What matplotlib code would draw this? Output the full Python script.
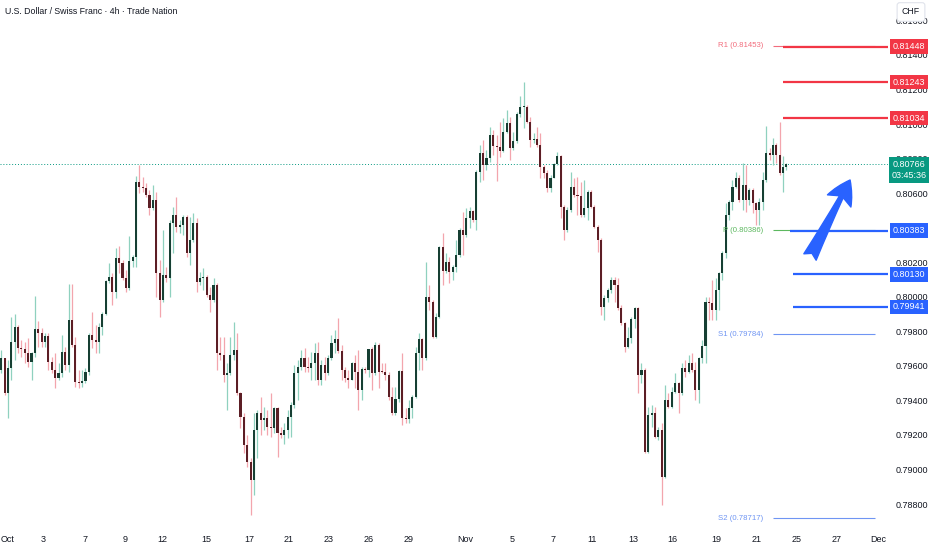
import matplotlib
matplotlib.use("Agg")
import matplotlib.pyplot as plt
import numpy as np
from matplotlib.transforms import blended_transform_factory

# USD/CHF 4h candles, Oct 1 -> Nov 24
opens = [
    0.79576, 0.79644, 0.79441, 0.79586, 0.79740, 0.79827, 0.79702, 0.79698, 0.79673, 0.79624,
    0.79673, 0.79812, 0.79792, 0.79740, 0.79775, 0.79624, 0.79576, 0.79528, 0.79557, 0.79682,
    0.79605, 0.79866, 0.79721, 0.79509, 0.79503, 0.79514, 0.79566, 0.79779, 0.79750, 0.79740,
    0.79827, 0.79900, 0.80093, 0.80116, 0.80030, 0.80227, 0.80194, 0.80107, 0.80049, 0.80207,
    0.80232, 0.80667, 0.80638, 0.80628, 0.80589, 0.80512, 0.80560, 0.80136, 0.79981, 0.80126,
    0.80107, 0.80425, 0.80473, 0.80406, 0.80415, 0.80460, 0.80251, 0.80328, 0.80425, 0.80087,
    0.80107, 0.80116, 0.80010, 0.79981, 0.80068, 0.79672, 0.79663, 0.79547, 0.79560, 0.79663,
    0.79691, 0.79441, 0.79305, 0.79141, 0.79045, 0.78939, 0.79228, 0.79325, 0.79287, 0.79296,
    0.79248, 0.79238, 0.79354, 0.79209, 0.79200, 0.79228, 0.79305, 0.79373, 0.79557, 0.79595,
    0.79643, 0.79595, 0.79585, 0.79614, 0.79672, 0.79518, 0.79603, 0.79557, 0.79644, 0.79731,
    0.79754, 0.79688, 0.79576, 0.79528, 0.79518, 0.79615, 0.79567, 0.79460, 0.79584, 0.79576,
    0.79696, 0.79557, 0.79721, 0.79567, 0.79563, 0.79547, 0.79422, 0.79325, 0.79406, 0.79572,
    0.79296, 0.79291, 0.79354, 0.79422, 0.79677, 0.79754, 0.79644, 0.80001, 0.79972, 0.79769,
    0.79885, 0.80290, 0.80151, 0.80204, 0.80146, 0.80171, 0.80242, 0.80387, 0.80358, 0.80454,
    0.80499, 0.80445, 0.80724, 0.80830, 0.80763, 0.80802, 0.80937, 0.80875, 0.80869, 0.80844,
    0.80956, 0.81004, 0.80863, 0.80902, 0.81057, 0.81097, 0.81101, 0.81014, 0.80908, 0.80914,
    0.80879, 0.80750, 0.80715, 0.80628, 0.80690, 0.80767, 0.80817, 0.80522, 0.80387, 0.80503,
    0.80638, 0.80590, 0.80586, 0.80474, 0.80512, 0.80609, 0.80522, 0.80406, 0.80329, 0.79943,
    0.79991, 0.80040, 0.80097, 0.80068, 0.79933, 0.79846, 0.79711, 0.79760, 0.79869, 0.79933,
    0.79548, 0.79577, 0.79104, 0.79316, 0.79326, 0.79190, 0.79229, 0.78959, 0.79403, 0.79364,
    0.79450, 0.79499, 0.79442, 0.79586, 0.79567, 0.79615, 0.79577, 0.79461, 0.79644, 0.79712,
    0.79972, 0.79963, 0.79924, 0.80040, 0.80136, 0.80252, 0.80474, 0.80550, 0.80638, 0.80686,
    0.80560, 0.80647, 0.80560, 0.80618, 0.80540, 0.80502, 0.80550, 0.80677, 0.80834, 0.80820,
    0.80879, 0.80820, 0.80715, 0.80749,
]
highs = [
    0.79692, 0.79644, 0.79634, 0.79885, 0.79900, 0.79837, 0.79750, 0.79740, 0.79759, 0.79682,
    0.80005, 0.79860, 0.79817, 0.79788, 0.79788, 0.79653, 0.79673, 0.79615, 0.79779, 0.79711,
    0.80071, 0.80071, 0.79769, 0.79576, 0.79576, 0.79586, 0.79788, 0.79914, 0.79837, 0.79846,
    0.79914, 0.80097, 0.80194, 0.80136, 0.80281, 0.80294, 0.80213, 0.80155, 0.80352, 0.80242,
    0.80699, 0.80763, 0.80695, 0.80657, 0.80618, 0.80647, 0.80609, 0.80213, 0.80387, 0.80174,
    0.80444, 0.80521, 0.80580, 0.80444, 0.80473, 0.80473, 0.80464, 0.80483, 0.80454, 0.80145,
    0.80165, 0.80126, 0.80058, 0.80107, 0.80077, 0.79769, 0.79769, 0.79614, 0.79769, 0.79856,
    0.79788, 0.79450, 0.79325, 0.79200, 0.79064, 0.79325, 0.79344, 0.79422, 0.79364, 0.79344,
    0.79441, 0.79364, 0.79364, 0.79248, 0.79267, 0.79344, 0.79392, 0.79605, 0.79634, 0.79691,
    0.79701, 0.79653, 0.79682, 0.79730, 0.79740, 0.79634, 0.79653, 0.79663, 0.79779, 0.79808,
    0.79875, 0.79721, 0.79596, 0.79576, 0.79625, 0.79663, 0.79692, 0.79596, 0.79596, 0.79700,
    0.79711, 0.79740, 0.79730, 0.79615, 0.79615, 0.79566, 0.79480, 0.79480, 0.79576, 0.79673,
    0.79354, 0.79403, 0.79432, 0.79711, 0.79789, 0.79760, 0.80204, 0.80068, 0.79982, 0.79904,
    0.80294, 0.80368, 0.80252, 0.80232, 0.80184, 0.80329, 0.80397, 0.80493, 0.80512, 0.80522,
    0.80503, 0.80734, 0.80879, 0.80908, 0.80850, 0.80985, 0.80966, 0.80937, 0.81014, 0.81033,
    0.81082, 0.81043, 0.80956, 0.81072, 0.81165, 0.81242, 0.81111, 0.81043, 0.80946, 0.80985,
    0.80946, 0.80763, 0.80734, 0.80705, 0.80773, 0.80840, 0.80821, 0.80532, 0.80522, 0.80724,
    0.80686, 0.80696, 0.80667, 0.80676, 0.80618, 0.80618, 0.80532, 0.80416, 0.80338, 0.80011,
    0.80050, 0.80116, 0.80116, 0.80107, 0.79953, 0.79856, 0.79827, 0.79885, 0.79943, 0.79943,
    0.79615, 0.79586, 0.79364, 0.79374, 0.79364, 0.79248, 0.79268, 0.79490, 0.79442, 0.79480,
    0.79557, 0.79509, 0.79615, 0.79634, 0.79663, 0.79673, 0.79625, 0.79653, 0.79750, 0.80001,
    0.80001, 0.80098, 0.80107, 0.80146, 0.80262, 0.80542, 0.80560, 0.80677, 0.80725, 0.80706,
    0.80773, 0.80763, 0.80628, 0.80628, 0.80550, 0.80570, 0.80725, 0.80989, 0.80859, 0.80918,
    0.80888, 0.81014, 0.80812, 0.80773,
]
lows = [
    0.79557, 0.79431, 0.79296, 0.79518, 0.79634, 0.79673, 0.79653, 0.79615, 0.79595, 0.79518,
    0.79653, 0.79711, 0.79711, 0.79711, 0.79576, 0.79557, 0.79470, 0.79518, 0.79537, 0.79576,
    0.79566, 0.79711, 0.79480, 0.79470, 0.79480, 0.79499, 0.79547, 0.79702, 0.79673, 0.79673,
    0.79779, 0.79895, 0.80078, 0.79952, 0.79991, 0.80136, 0.80097, 0.80030, 0.80039, 0.80174,
    0.80174, 0.80599, 0.80609, 0.80580, 0.80474, 0.80502, 0.80001, 0.79885, 0.79972, 0.80087,
    0.80001, 0.80251, 0.80377, 0.80367, 0.80357, 0.80232, 0.80184, 0.80319, 0.80029, 0.80068,
    0.80039, 0.80001, 0.79913, 0.79971, 0.79576, 0.79634, 0.79508, 0.79344, 0.79547, 0.79634,
    0.79431, 0.79238, 0.79093, 0.79016, 0.78736, 0.78852, 0.79064, 0.79200, 0.79228, 0.79200,
    0.79190, 0.79209, 0.79074, 0.79181, 0.79150, 0.79181, 0.79190, 0.79354, 0.79402, 0.79576,
    0.79566, 0.79566, 0.79518, 0.79518, 0.79489, 0.79489, 0.79518, 0.79547, 0.79634, 0.79673,
    0.79673, 0.79518, 0.79509, 0.79470, 0.79518, 0.79470, 0.79345, 0.79403, 0.79557, 0.79538,
    0.79460, 0.79547, 0.79470, 0.79557, 0.79518, 0.79403, 0.79316, 0.79316, 0.79393, 0.79258,
    0.79268, 0.79268, 0.79296, 0.79412, 0.79576, 0.79576, 0.79634, 0.79924, 0.79760, 0.79760,
    0.79875, 0.80068, 0.80136, 0.80078, 0.80097, 0.80146, 0.80232, 0.80242, 0.80348, 0.80397,
    0.80435, 0.80387, 0.80667, 0.80676, 0.80734, 0.80782, 0.80821, 0.80671, 0.80811, 0.80840,
    0.80946, 0.80792, 0.80850, 0.80889, 0.81043, 0.80975, 0.81004, 0.80869, 0.80889, 0.80869,
    0.80686, 0.80686, 0.80609, 0.80609, 0.80686, 0.80763, 0.80454, 0.80329, 0.80377, 0.80493,
    0.80580, 0.80474, 0.80464, 0.80464, 0.80445, 0.80512, 0.80396, 0.80261, 0.79895, 0.79866,
    0.79972, 0.80020, 0.79972, 0.79924, 0.79837, 0.79682, 0.79702, 0.79730, 0.79817, 0.79442,
    0.79499, 0.79094, 0.79094, 0.79248, 0.79180, 0.79170, 0.78795, 0.78949, 0.79355, 0.79355,
    0.79442, 0.79326, 0.79432, 0.79538, 0.79557, 0.79567, 0.79402, 0.79384, 0.79615, 0.79615,
    0.79866, 0.79866, 0.79866, 0.79924, 0.80098, 0.80223, 0.80445, 0.80503, 0.80628, 0.80550,
    0.80502, 0.80493, 0.80531, 0.80483, 0.80416, 0.80416, 0.80502, 0.80667, 0.80792, 0.80763,
    0.80772, 0.80705, 0.80609, 0.80734,
]
closes = [
    0.79644, 0.79441, 0.79586, 0.79740, 0.79827, 0.79702, 0.79698, 0.79673, 0.79624, 0.79673,
    0.79812, 0.79792, 0.79740, 0.79775, 0.79624, 0.79576, 0.79528, 0.79557, 0.79682, 0.79605,
    0.79866, 0.79721, 0.79509, 0.79503, 0.79514, 0.79566, 0.79779, 0.79750, 0.79740, 0.79827,
    0.79900, 0.80093, 0.80116, 0.80030, 0.80227, 0.80194, 0.80107, 0.80049, 0.80207, 0.80232,
    0.80667, 0.80638, 0.80628, 0.80589, 0.80512, 0.80560, 0.80136, 0.79981, 0.80126, 0.80107,
    0.80425, 0.80473, 0.80406, 0.80415, 0.80460, 0.80251, 0.80328, 0.80425, 0.80087, 0.80107,
    0.80116, 0.80010, 0.79981, 0.80068, 0.79672, 0.79663, 0.79547, 0.79560, 0.79663, 0.79691,
    0.79441, 0.79305, 0.79141, 0.79045, 0.78939, 0.79228, 0.79325, 0.79287, 0.79296, 0.79248,
    0.79238, 0.79354, 0.79209, 0.79200, 0.79228, 0.79305, 0.79373, 0.79557, 0.79595, 0.79643,
    0.79595, 0.79585, 0.79614, 0.79672, 0.79518, 0.79603, 0.79557, 0.79644, 0.79731, 0.79754,
    0.79688, 0.79576, 0.79528, 0.79518, 0.79615, 0.79567, 0.79460, 0.79584, 0.79576, 0.79696,
    0.79557, 0.79721, 0.79567, 0.79563, 0.79547, 0.79422, 0.79325, 0.79406, 0.79572, 0.79296,
    0.79291, 0.79354, 0.79422, 0.79677, 0.79754, 0.79644, 0.80001, 0.79972, 0.79769, 0.79885,
    0.80290, 0.80151, 0.80204, 0.80146, 0.80171, 0.80242, 0.80387, 0.80358, 0.80454, 0.80499,
    0.80445, 0.80724, 0.80830, 0.80763, 0.80802, 0.80937, 0.80875, 0.80869, 0.80844, 0.80956,
    0.81004, 0.80863, 0.80902, 0.81057, 0.81097, 0.81101, 0.81014, 0.80908, 0.80914, 0.80879,
    0.80750, 0.80715, 0.80628, 0.80690, 0.80767, 0.80817, 0.80522, 0.80387, 0.80503, 0.80638,
    0.80590, 0.80586, 0.80474, 0.80512, 0.80609, 0.80522, 0.80406, 0.80329, 0.79943, 0.79991,
    0.80040, 0.80097, 0.80068, 0.79933, 0.79846, 0.79711, 0.79760, 0.79869, 0.79933, 0.79548,
    0.79577, 0.79104, 0.79316, 0.79326, 0.79190, 0.79229, 0.78959, 0.79403, 0.79364, 0.79450,
    0.79499, 0.79442, 0.79586, 0.79567, 0.79615, 0.79577, 0.79461, 0.79644, 0.79712, 0.79972,
    0.79963, 0.79924, 0.80040, 0.80136, 0.80252, 0.80474, 0.80550, 0.80638, 0.80686, 0.80560,
    0.80647, 0.80560, 0.80618, 0.80540, 0.80502, 0.80550, 0.80677, 0.80834, 0.80820, 0.80879,
    0.80820, 0.80715, 0.80749, 0.80767,
]

date_ticks = [1.8, 12.5, 25, 36.7, 47.8, 60.9, 73.6, 85.2, 97.2, 108.9, 121,
              137.8, 151.7, 163.7, 175.3, 187.5, 199.1, 212.1, 224, 236.1, 248, 260.2]
date_labels = ['Oct', '3', '7', '9', '12', '15', '17', '21', '23', '26', '29',
               'Nov', '5', '7', '11', '13', '16', '19', '21', '25', '27', 'Dec']
# 0.80400 sits fully under the 0.80383 tag, so it is left out
price_ticks = [0.816, 0.814, 0.812, 0.810, 0.808, 0.806, 0.802,
               0.800, 0.798, 0.796, 0.794, 0.792, 0.790, 0.788]

resistance = [0.81448, 0.81243, 0.81034]
support = [0.80383, 0.80130, 0.79941]
pivot_names = ['R1', 'P', 'S1', 'S2']
pivot_values = [0.81453, 0.80386, 0.79784, 0.78717]
last_price = 0.80766
countdown = '03:45:36'

UP_BODY, UP_WICK = '#163f33', '#8fd1bf'
DN_BODY, DN_WICK = '#5c1e25', '#f3a5ad'
RED, BLUE, GREEN = '#f23645', '#2962ff', '#089981'
TXT = '#131722'

plt.rcParams['font.family'] = ['Liberation Sans', 'DejaVu Sans']

fig = plt.figure(figsize=(9.32, 5.5), dpi=100)
fig.patch.set_facecolor('white')
ax = fig.add_axes([0, 23 / 550, 888 / 932, 527 / 550])
ax.set_xlim(-0.36, 263.15)
ax.set_ylim(0.78667, 0.81718)

o = np.array(opens)
h = np.array(highs)
l = np.array(lows)
c = np.array(closes)
x = np.arange(len(c))
up = c >= o

ax.vlines(x[up], l[up], h[up], color=UP_WICK, lw=0.9, zorder=2)
ax.vlines(x[~up], l[~up], h[~up], color=DN_WICK, lw=0.9, zorder=2)
body = np.maximum(np.abs(c - o), 0.00005)
ax.bar(x[up], body[up], bottom=np.minimum(o, c)[up], width=0.62,
       color=UP_BODY, lw=0, zorder=3)
ax.bar(x[~up], body[~up], bottom=np.minimum(o, c)[~up], width=0.62,
       color=DN_BODY, lw=0, zorder=3)

# last price dotted line
ax.axhline(last_price, color=GREEN, lw=0.7, ls=(0, (1, 2)), zorder=1)

# pivot levels
pivot_colors = ['#f26d7d', '#5cb85f', '#6f95f3', '#6f95f3']
for name, val, col in zip(pivot_names, pivot_values, pivot_colors):
    ax.hlines(val, 229.0, 259.3, color=col, lw=0.8, zorder=4)
    ax.text(226.1, val, f'{name} ({val:.5f})', ha='right', va='center',
            fontsize=5.6, color=col, zorder=4)

# drawn levels
ax.hlines(resistance, 232.0, 264, color=RED, lw=1.6, zorder=5)
ax.hlines(support, [234.1, 235, 235], 264, color=BLUE, lw=1.6, zorder=5)

ax.annotate('', xy=(251.9, 0.80676), xytext=(240.0, 0.80230),
            arrowprops=dict(arrowstyle='fancy,head_length=0.85,head_width=0.95,tail_width=0.5',
                            fc=BLUE, ec=BLUE, mutation_scale=20, shrinkA=0, shrinkB=0),
            zorder=6)

# price scale labels
trans = blended_transform_factory(ax.transAxes, ax.transData)
lx = 909 / 888
for val in resistance:
    ax.text(lx, val, f'{val:.5f}', transform=trans, ha='center', va='center',
            color='white', fontsize=6.5, clip_on=False, zorder=10,
            bbox=dict(boxstyle='square,pad=0.3', fc=RED, ec='none'))
for val in support:
    ax.text(lx, val, f'{val:.5f}', transform=trans, ha='center', va='center',
            color='white', fontsize=6.5, clip_on=False, zorder=10,
            bbox=dict(boxstyle='square,pad=0.3', fc=BLUE, ec='none'))
ax.text(lx, last_price - 0.00032, f'{last_price:.5f}\n{countdown}', transform=trans,
        ha='center', va='center', color='white', fontsize=6.5, linespacing=1.35,
        clip_on=False, zorder=10,
        bbox=dict(boxstyle='square,pad=0.3', fc=GREEN, ec='none'))

ax.yaxis.tick_right()
ax.set_yticks(price_ticks)
ax.set_yticklabels([f'{t:.5f}' for t in price_ticks])
ax.tick_params(axis='y', length=0, pad=5.8, labelsize=6.5, labelcolor=TXT)
ax.set_xticks(date_ticks)
ax.set_xticklabels(date_labels)
ax.tick_params(axis='x', length=0, pad=6, labelsize=6.5, labelcolor=TXT)
for s in ax.spines.values():
    s.set_visible(False)

fig.text(5 / 932, 1 - 11 / 550, 'U.S. Dollar / Swiss Franc · 4h · Trade Nation',
         ha='left', va='center', fontsize=6.3, color=TXT)
fig.text(911 / 932, 1 - 12 / 550, 'CHF', ha='center', va='center', fontsize=6.3,
         color=TXT, zorder=10,
         bbox=dict(boxstyle='round,pad=0.55,rounding_size=0.3', fc='white',
                   ec='#e0e3eb', lw=0.8))

fig.savefig('out.png', dpi=100, facecolor='white')
